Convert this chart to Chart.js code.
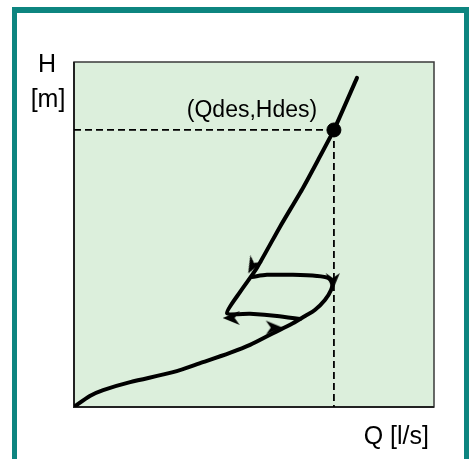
<!DOCTYPE html>
<html><head><meta charset="utf-8">
<script src="https://cdn.jsdelivr.net/npm/chart.js@4/dist/chart.umd.min.js"></script>
<style>html,body{margin:0;padding:0;background:#fff;}#wrap{width:470px;height:459px;}</style>
</head><body><div id="wrap"><canvas id="c" width="470" height="459"></canvas></div>
<script>
// Axis ranges (Q and H in % of the drawn range)
const axisRange = [0, 100];
// Rising (lower) branch from origin, through the unstable loop, back to the upper line
const risingQ = [0, 4.4, 8.1, 15.6, 27.5, 35.8, 43.3, 48.9, 55.3, 60.8, 64.2, 66.9, 69.7, 71.4, 71.7, 70.6, 67.5, 60.8, 53.6, 49.4];
const risingH = [0, 3.2, 4.9, 7.2, 10.1, 13.0, 15.7, 18.0, 21.4, 24.3, 26.4, 28.1, 31.0, 33.9, 35.9, 37.4, 38.0, 38.3, 38.3, 37.7];
// Upper (steep) branch, down to the lower jump line
const upperQ = [78.6, 72.2, 67.8, 63.6, 57.2, 50.8, 46.1, 42.5, 48.9, 56.4, 62.8];
const upperH = [95.4, 80.3, 71.6, 63.5, 52.2, 40.3, 33.3, 27.2, 27.0, 26.4, 25.5];
// Design point
const designQ = 72.2;
const designH = 80.3;
// Arrow heads along the loop
const arrowQ = [49.6, 71.9, 43.8, 55.5];
const arrowH = [41.0, 36.5, 25.8, 23.0];
const arrowRot = [209, 180, 270, 90];
// Texts
const yTitle = ["H", "[m]"];
const xTitle = "Q [l/s]";
const pointLabel = "(Qdes,Hdes)";

const pts = (xs, ys) => xs.map((x, i) => ({x: x, y: ys[i]}));

// elongated arrowhead pointing up, used as a point style
const arrowImg = document.createElement('canvas');
arrowImg.width = 16; arrowImg.height = 18;
(function () {
  const g = arrowImg.getContext('2d');
  g.fillStyle = '#000';
  g.beginPath();
  g.moveTo(8, 0); g.lineTo(15, 17); g.lineTo(8, 12); g.lineTo(1, 17); g.closePath();
  g.fill();
})();

const decor = {
  id: 'decor',
  beforeDraw(chart) {
    const ctx = chart.ctx, a = chart.chartArea;
    ctx.save();
    ctx.fillStyle = '#0d8580';
    ctx.fillRect(12, 7, 457, 470);
    ctx.fillStyle = '#ffffff';
    ctx.fillRect(17, 13, 447, 470);
    ctx.fillStyle = '#dcefdc';
    ctx.fillRect(a.left, a.top, a.right - a.left, a.bottom - a.top);
    ctx.strokeStyle = '#3a3a3a';
    ctx.lineWidth = 1.5;
    ctx.strokeRect(a.left, a.top, a.right - a.left, a.bottom - a.top);
    ctx.strokeStyle = '#222';
    ctx.lineWidth = 2;
    ctx.beginPath();
    ctx.moveTo(a.left, a.top); ctx.lineTo(a.left, a.bottom); ctx.lineTo(a.right, a.bottom);
    ctx.stroke();
    ctx.fillStyle = '#000';
    ctx.font = '25px "Liberation Sans", Arial, sans-serif';
    ctx.textAlign = 'center';
    ctx.textBaseline = 'alphabetic';
    ctx.fillText(yTitle[0], 47, 72);
    ctx.fillText(yTitle[1], 48, 107);
    ctx.textAlign = 'right';
    ctx.fillText(xTitle, 429, 444);
    ctx.textAlign = 'center';
    ctx.font = '23px "Liberation Sans", Arial, sans-serif';
    ctx.fillText(pointLabel, 252, 117);
    ctx.restore();
  }
};

new Chart(document.getElementById('c'), {
  type: 'scatter',
  data: {
    datasets: [
      {data: [{x: 0, y: designH}, {x: designQ, y: designH}], showLine: true, borderColor: '#000', borderWidth: 1.8, borderDash: [7, 4], pointRadius: 0},
      {data: [{x: designQ, y: designH}, {x: designQ, y: 0}], showLine: true, borderColor: '#000', borderWidth: 1.8, borderDash: [7, 4], pointRadius: 0},
      {data: pts(risingQ, risingH), showLine: true, borderColor: '#000', borderWidth: 4, tension: 0.3, pointRadius: 0, borderCapStyle: 'round', borderJoinStyle: 'round'},
      {data: pts(upperQ, upperH), showLine: true, borderColor: '#000', borderWidth: 4, tension: 0.2, pointRadius: 0, borderCapStyle: 'round', borderJoinStyle: 'round'},
      {data: pts(arrowQ, arrowH), showLine: false, pointStyle: arrowImg, pointRotation: arrowRot, pointRadius: 8, backgroundColor: '#000', borderColor: '#000'},
      {data: [{x: designQ, y: designH}], showLine: false, pointRadius: 7, backgroundColor: '#000', borderColor: '#000'}
    ]
  },
  options: {
    responsive: false,
    animation: false,
    layout: {padding: {left: 74, right: 36, top: 62, bottom: 52}},
    plugins: {legend: {display: false}, tooltip: {enabled: false}},
    scales: {
      x: {type: 'linear', display: false, min: axisRange[0], max: axisRange[1]},
      y: {type: 'linear', display: false, min: axisRange[0], max: axisRange[1]}
    }
  },
  plugins: [decor]
});
</script>
</body></html>
